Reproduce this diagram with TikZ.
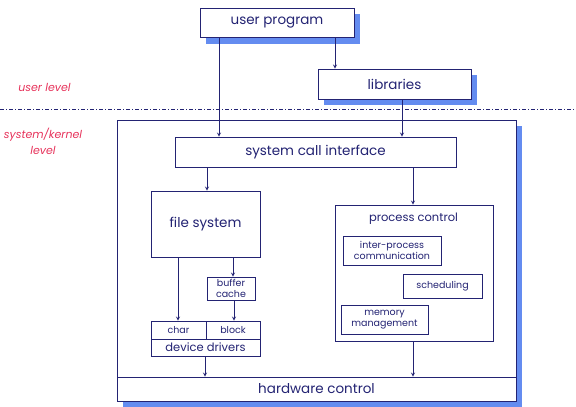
\documentclass[tikz,border=0pt]{standalone}
\usepackage{fontspec}
\setmainfont{Poppins}
\usetikzlibrary{arrows,backgrounds}

\definecolor{navy}{RGB}{35,35,115}
\definecolor{shadowblue}{RGB}{100,140,240}
\definecolor{levelred}{RGB}{230,50,90}

\begin{document}
\begin{tikzpicture}[x=1pt,y=-1pt,>=stealth,
	blk/.style={draw=navy, fill=white, line width=0.8pt, inner sep=0pt, text=navy, align=center, font=\fontsize{13.5}{15}\selectfont},
	small/.style={blk, font=\fontsize{9.5}{11}\selectfont},
	lvl/.style={text=levelred, align=center, font=\fontsize{11}{16}\selectfont\itshape},
	link/.style={->, draw=navy, line width=0.8pt},
	shadow/.style={fill=shadowblue}]
		\newcommand\vlink[3]{ %% argument 1: upper node, argument 2: lower node, argument 3: x-position
			\draw[link] (#3,0 |- #1.south) -- (#3,0 |- #2.north);
		}

		\useasboundingbox (0,0) rectangle (576,407);

		%% user level
		\node[blk, minimum width=154pt, minimum height=29pt] (prog) at (277,23) {user program};
		\node[blk, minimum width=153pt, minimum height=30pt] (lib) at (394.5,84) {libraries};
		\node[lvl] (ul) at (44.5,87) {user level};

		\draw[navy, line width=0.8pt, dash pattern=on 4pt off 2pt on 1pt off 2pt] (0,109.5) -- (576,109.5);

		%% kernel
		\node[lvl] (kl) at (43,141) {system/kernel\\level};
		\node[blk, minimum width=399pt, minimum height=281pt] (kern) at (316.5,260.5) {};
		\node[blk, minimum width=399pt, minimum height=24pt] (hw) at (316.5,389) {hardware control};
		\node[blk, minimum width=281pt, minimum height=30pt] (sci) at (315.5,152) {system call interface};

		\node[blk, minimum width=109pt, minimum height=66pt] (fs) at (205.5,224) {file system};
		\node[small, minimum width=48pt, minimum height=23pt] (bc) at (231,288.5) {buffer\\cache};
		\node[small, minimum width=55pt, minimum height=18pt] (char) at (178.5,330) {char};
		\node[small, minimum width=54pt, minimum height=18pt] (block) at (233,330) {block};
		\node[blk, font=\fontsize{11.5}{13}\selectfont, minimum width=109pt, minimum height=17pt] (dd) at (205.5,347.5) {device drivers};

		\node[blk, minimum width=158pt, minimum height=136pt] (pc) at (414,273) {};
		\node[text=navy, font=\fontsize{11.5}{13}\selectfont] (pct) at (413.5,219) {process control};
		\node[small, minimum width=98pt, minimum height=29pt] (ipc) at (392,250.5) {inter-process\\communication};
		\node[small, minimum width=79pt, minimum height=24pt] (sch) at (442.5,286) {scheduling};
		\node[small, minimum width=87pt, minimum height=29pt] (mm) at (384.5,319.5) {memory\\management};

		%% blue shadows behind the three outer boxes
		\begin{pgfonlayer}{background}
			\foreach \b in {prog,lib,kern}
				\fill[shadow] ([shift={(6pt,-6pt)}]\b.south west) rectangle ([shift={(6pt,-6pt)}]\b.north east);
		\end{pgfonlayer}

		\vlink{prog}{sci}{219}
		\vlink{prog}{lib}{335}
		\vlink{lib}{sci}{402}
		\vlink{sci}{fs}{207}
		\vlink{sci}{pc}{413}
		\vlink{fs}{char}{178}
		\vlink{fs}{bc}{233}
		\vlink{bc}{block}{234}
		\vlink{dd}{hw}{205}
		\vlink{pc}{hw}{413}
	\end{tikzpicture}
\end{document}
